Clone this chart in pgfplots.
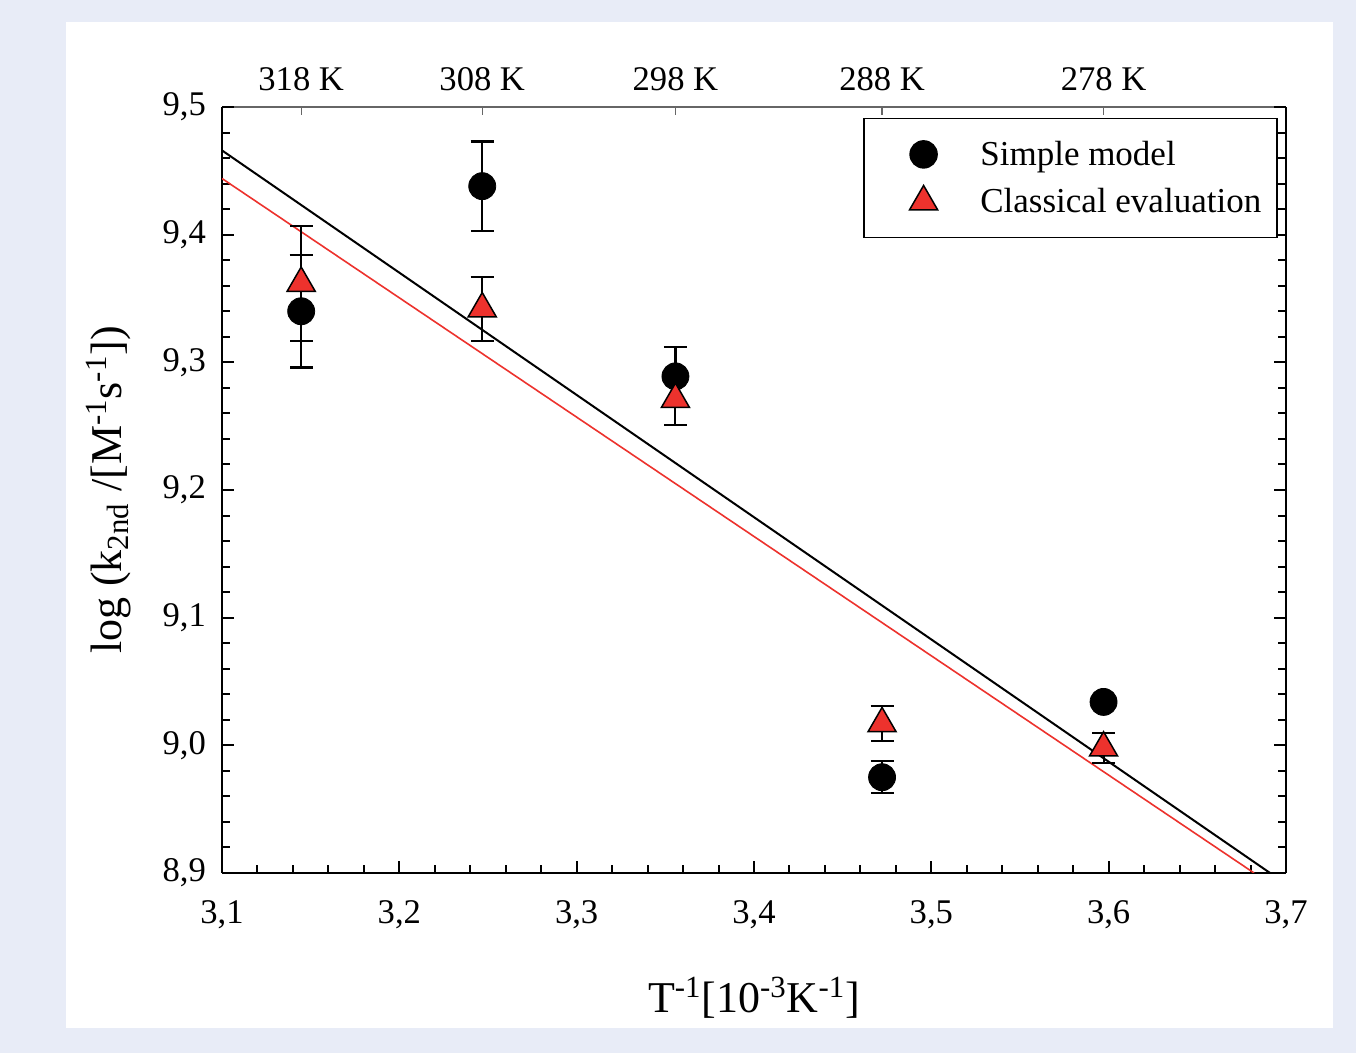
\documentclass[border=0pt]{standalone}
\usepackage{fontspec}
\setmainfont{Liberation Serif}
\usepackage{pgfplots}
\pgfplotsset{compat=1.18}
\definecolor{bgblue}{RGB}{232,236,247}
\definecolor{tri}{RGB}{237,50,45}
\begin{document}
\begin{tikzpicture}
\useasboundingbox (0,0) rectangle (678pt,526.5pt);
\fill[bgblue] (0,0) rectangle (678pt,526.5pt);
\fill[white] (33pt,12.5pt) rectangle (666.5pt,515.5pt);

% upper axis with temperatures
\begin{axis}[
    at={(111pt,90pt)}, anchor=south west,
    scale only axis, width=532pt, height=383pt,
    xmin=3.1, xmax=3.7, ymin=8.9, ymax=9.5,
    axis x line*=top, hide y axis,
    x axis line style={-, gray!80!black, line width=0.6pt},
    xtick={3.14465,3.24675,3.35570,3.47222,3.59712},
    xticklabels={318 K,308 K,298 K,288 K,278 K},
    xtick pos=right, xticklabel pos=right,
    tick align=inside, major tick length=4pt,
    tick style={gray!80!black, line width=0.6pt},
    xticklabel style={font=\fontsize{17.3}{20}\selectfont, yshift=4.5pt},
]
\end{axis}

\begin{axis}[
    at={(111pt,90pt)}, anchor=south west,
    scale only axis, width=532pt, height=383pt,
    xmin=3.1, xmax=3.7, ymin=8.9, ymax=9.5,
    axis x line*=bottom, axis y line*=box,
    axis line style={-, black, line width=1.4pt},
    xtick={3.1,3.2,3.3,3.4,3.5,3.6,3.7},
    ytick={8.9,9.0,9.1,9.2,9.3,9.4,9.5},
    minor x tick num=4, minor y tick num=4,
    xtick pos=left, ytick pos=both,
    tick align=inside,
    major tick length=6pt, minor tick length=4pt,
    tick style={black, line width=1pt},
    /pgf/number format/.cd, use comma, fixed, fixed zerofill, precision=1, assume math mode=true,
    /pgfplots/.cd,
    xticklabel style={font=\fontsize{17.3}{20}\selectfont, yshift=-10.5pt},
    yticklabel style={font=\fontsize{17.3}{20}\selectfont, xshift=-4.5pt},
    xlabel={T\textsuperscript{-1}[10\textsuperscript{-3}K\textsuperscript{-1}]},
    ylabel={log (k\textsubscript{2nd} /[M\textsuperscript{-1}s\textsuperscript{-1}])},
    xlabel style={font=\fontsize{22}{26}\selectfont, at={(axis description cs:0.5,-0.163)}, anchor=center},
    ylabel style={font=\fontsize{22}{26}\selectfont, at={(axis description cs:-0.107,0.5)}, anchor=center},
    legend style={
        draw=black, line width=0.75pt, fill=white,
        at={(axis description cs:1,1)}, anchor=north east,
        xshift=-4pt, yshift=-5.5pt,
        inner xsep=5pt, inner ysep=6pt,
        column sep=0pt,
        nodes={inner xsep=3pt, inner ysep=5pt},
        font=\fontsize{17.5}{21}\selectfont,
    },
    legend cell align=left,
    legend image code/.code={
        \path (-24.5pt,0pt) (25pt,0pt);
        \draw[#1] plot coordinates {(0pt,0pt)};
    },
]
% fitted lines
\addplot[black, line width=1pt, forget plot] coordinates {(3.1,9.466) (3.691,8.9)};
\addplot[tri, line width=0.8pt, forget plot] coordinates {(3.1,9.444) (3.682,8.9)};

% simple model
\addplot[only marks, mark=*, mark size=6.75pt, black, forget plot,
    error bars/.cd, y dir=both, y explicit,
    error bar style={black, line width=1.1pt},
    error mark options={rotate=90, mark size=5.75pt, line width=1.1pt, black}]
coordinates {
    (3.14465,9.340) +- (0,0.044)
    (3.24675,9.438) +- (0,0.035)
    (3.35570,9.289) +- (0,0.023)
    (3.47222,8.975) +- (0,0.0125)
    (3.59712,9.034) +- (0,0.004)
};
% classical evaluation
\addplot[only marks, mark=triangle*, mark size=8.1pt, draw=black, fill=tri,
    mark options={line width=0.75pt}, forget plot,
    error bars/.cd, y dir=both, y explicit,
    error bar style={black, line width=1pt},
    error mark options={rotate=90, mark size=5.75pt, line width=1pt, black}]
coordinates {
    (3.14465,9.362) +- (0,0.045)
    (3.24675,9.342) +- (0,0.025)
    (3.35570,9.271) +- (0,0.020)
    (3.47222,9.017) +- (0,0.014)
    (3.59712,8.998) +- (0,0.012)
};

\addlegendimage{only marks, mark=*, mark size=6.75pt, black}
\addlegendentry{Simple model}
\addlegendimage{only marks, mark=triangle*, mark size=8.1pt, draw=black, fill=tri, mark options={line width=0.75pt}}
\addlegendentry{Classical evaluation}
\end{axis}
\end{tikzpicture}
\end{document}
